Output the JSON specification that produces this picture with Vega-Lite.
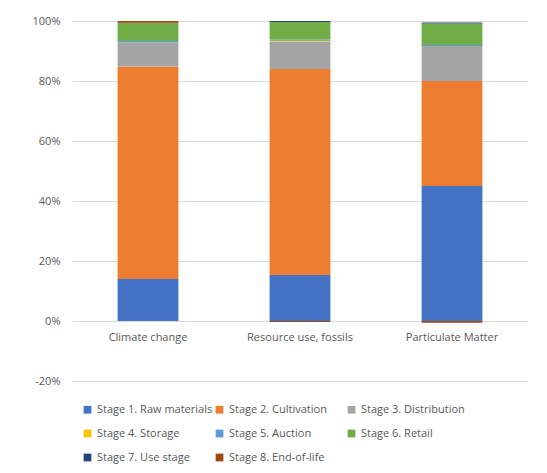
{
  "$schema": "https://vega.github.io/schema/vega-lite/v6.json",
  "width": 456,
  "height": 360,
  "autosize": {"type": "none"},
  "padding": {"left": 72, "top": 21, "right": 19, "bottom": 92},
  "background": "white",
  "config": {
    "view": {"stroke": null},
    "font": "Open Sans",
    "axis": {"labelFont": "Open Sans", "labelFontSize": 11, "labelColor": "#595959"},
    "legend": {"labelFont": "Open Sans", "labelFontSize": 11, "labelColor": "#595959"}
  },
  "data": {
    "values": [
      {"category": "Climate change", "stage": "Stage 1. Raw materials", "idx": 1, "value": 0.140},
      {"category": "Climate change", "stage": "Stage 2. Cultivation", "idx": 2, "value": 0.708},
      {"category": "Climate change", "stage": "Stage 3. Distribution", "idx": 3, "value": 0.081},
      {"category": "Climate change", "stage": "Stage 4. Storage", "idx": 4, "value": 0.0},
      {"category": "Climate change", "stage": "Stage 5. Auction", "idx": 5, "value": 0.004},
      {"category": "Climate change", "stage": "Stage 6. Retail", "idx": 6, "value": 0.060},
      {"category": "Climate change", "stage": "Stage 7. Use stage", "idx": 7, "value": 0.001},
      {"category": "Climate change", "stage": "Stage 8. End-of-life", "idx": 8, "value": 0.006},
      {"category": "Resource use, fossils", "stage": "Stage 1. Raw materials", "idx": 1, "value": 0.153},
      {"category": "Resource use, fossils", "stage": "Stage 2. Cultivation", "idx": 2, "value": 0.687},
      {"category": "Resource use, fossils", "stage": "Stage 3. Distribution", "idx": 3, "value": 0.091},
      {"category": "Resource use, fossils", "stage": "Stage 4. Storage", "idx": 4, "value": 0.003},
      {"category": "Resource use, fossils", "stage": "Stage 5. Auction", "idx": 5, "value": 0.004},
      {"category": "Resource use, fossils", "stage": "Stage 6. Retail", "idx": 6, "value": 0.059},
      {"category": "Resource use, fossils", "stage": "Stage 7. Use stage", "idx": 7, "value": 0.003},
      {"category": "Resource use, fossils", "stage": "Stage 8. End-of-life", "idx": 8, "value": -0.003},
      {"category": "Particulate Matter", "stage": "Stage 1. Raw materials", "idx": 1, "value": 0.450},
      {"category": "Particulate Matter", "stage": "Stage 2. Cultivation", "idx": 2, "value": 0.350},
      {"category": "Particulate Matter", "stage": "Stage 3. Distribution", "idx": 3, "value": 0.117},
      {"category": "Particulate Matter", "stage": "Stage 4. Storage", "idx": 4, "value": 0.0},
      {"category": "Particulate Matter", "stage": "Stage 5. Auction", "idx": 5, "value": 0.003},
      {"category": "Particulate Matter", "stage": "Stage 6. Retail", "idx": 6, "value": 0.072},
      {"category": "Particulate Matter", "stage": "Stage 7. Use stage", "idx": 7, "value": 0.003},
      {"category": "Particulate Matter", "stage": "Stage 8. End-of-life", "idx": 8, "value": -0.006}
    ]
  },
  "mark": {"type": "bar"},
  "encoding": {
    "x": {
      "field": "category",
      "type": "nominal",
      "sort": ["Climate change", "Resource use, fossils", "Particulate Matter"],
      "scale": {"paddingInner": 0.6, "paddingOuter": 0.3},
      "axis": {"title": null, "labelAngle": 0, "ticks": false, "domain": false, "offset": -60, "labelPadding": 10}
    },
    "y": {
      "field": "value",
      "type": "quantitative",
      "stack": "zero",
      "scale": {"domain": [-0.2, 1], "nice": false},
      "axis": {"title": null, "format": ".0%", "labelExpr": "replace(datum.label, '−', '-')", "values": [-0.2, 0, 0.2, 0.4, 0.6, 0.8, 1.0], "ticks": false, "domain": false, "gridColor": "#d9d9d9", "labelPadding": 12}
    },
    "color": {
      "field": "stage",
      "type": "nominal",
      "scale": {
        "domain": ["Stage 1. Raw materials", "Stage 2. Cultivation", "Stage 3. Distribution", "Stage 4. Storage", "Stage 5. Auction", "Stage 6. Retail", "Stage 7. Use stage", "Stage 8. End-of-life"],
        "range": ["#4472C4", "#ED7D31", "#A5A5A5", "#FFC000", "#5B9BD5", "#70AD47", "#264478", "#9E480E"]
      },
      "legend": {
        "title": null,
        "orient": "none",
        "legendX": 10,
        "legendY": 383,
        "direction": "horizontal",
        "columns": 3,
        "gridAlign": "all",
        "columnPadding": 1,
        "rowPadding": 12,
        "symbolType": "square",
        "symbolSize": 60,
        "symbolStrokeWidth": 0,
        "labelOffset": 4
      }
    },
    "order": {"field": "idx", "type": "quantitative"}
  }
}
